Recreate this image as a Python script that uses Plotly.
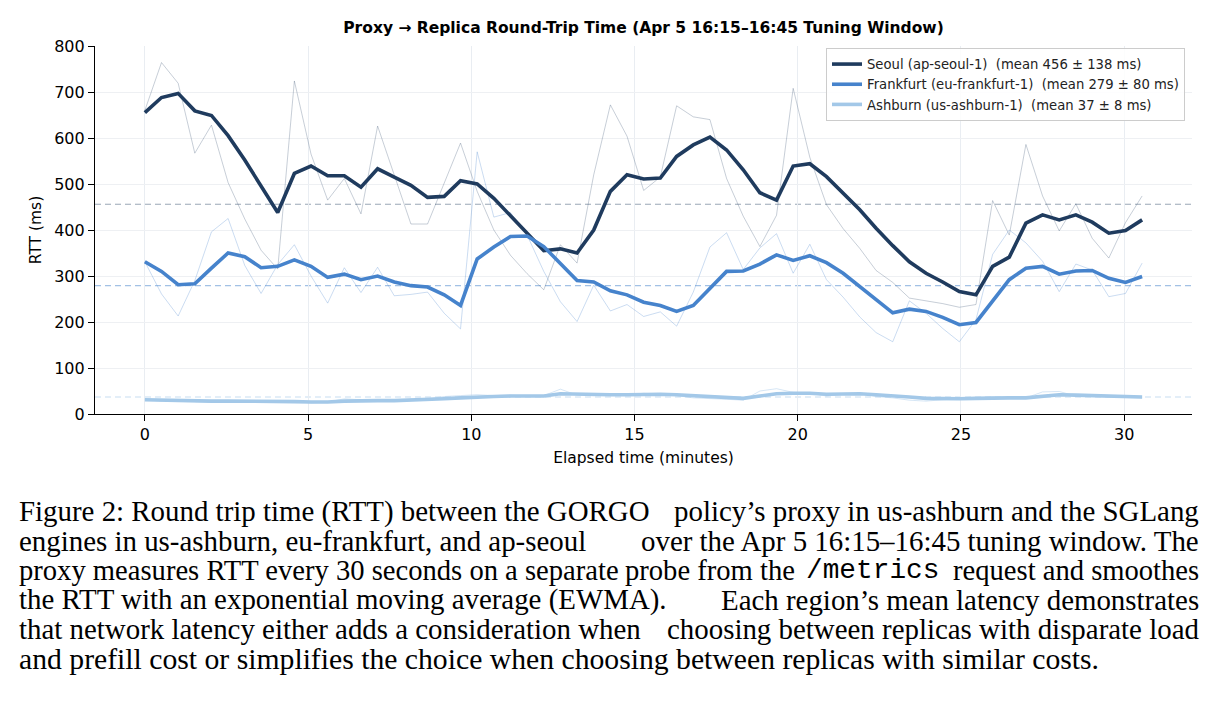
import plotly.graph_objects as go

# ---------------- data ----------------
elapsed_min = [0.00, 0.51, 1.02, 1.53, 2.04, 2.55, 3.06, 3.56, 4.07, 4.58,
               5.09, 5.60, 6.11, 6.62, 7.13, 7.64, 8.15, 8.66, 9.17, 9.67,
               10.18, 10.69, 11.20, 11.71, 12.22, 12.73, 13.24, 13.75, 14.26, 14.77,
               15.28, 15.79, 16.29, 16.80, 17.31, 17.82, 18.33, 18.84, 19.35, 19.86,
               20.37, 20.88, 21.39, 21.90, 22.40, 22.91, 23.42, 23.93, 24.44, 24.95,
               25.46, 25.97, 26.48, 26.99, 27.50, 28.01, 28.52, 29.02, 29.53, 30.04,
               30.55]

seoul_raw = [660, 764, 719, 567, 628, 503, 424, 356, 315, 724,
             565, 465, 512, 435, 626, 520, 413, 413, 500, 589,
             484, 400, 345, 305, 270, 368, 328, 520, 672, 604,
             486, 515, 670, 646, 640, 512, 430, 364, 432, 708,
             558, 455, 403, 360, 312, 286, 252, 246, 240, 232,
             238, 464, 389, 586, 474, 398, 457, 382, 339, 416,
             474]
seoul_ewma = [655, 688, 697, 659, 649, 605, 552, 494, 438, 523,
              539, 518, 518, 493, 533, 515, 497, 471, 473, 507,
              500, 469, 431, 393, 355, 359, 350, 400, 484, 520,
              511, 513, 560, 585, 602, 574, 531, 481, 465, 539,
              544, 516, 481, 444, 404, 366, 331, 306, 287, 266,
              259, 321, 341, 415, 433, 422, 433, 417, 393, 399,
              422]

frankfurt_raw = [331, 261, 213, 290, 396, 425, 323, 262, 325, 368,
                 300, 241, 318, 264, 319, 257, 260, 265, 219, 185,
                 570, 428, 438, 389, 310, 244, 201, 280, 224, 238,
                 212, 222, 191, 265, 363, 394, 314, 361, 392, 306,
                 369, 292, 254, 211, 177, 157, 246, 219, 186, 157,
                 205, 347, 400, 372, 332, 266, 326, 313, 255, 262,
                 328]
frankfurt_ewma = [331, 310, 281, 283, 317, 350, 342, 318, 321, 335,
                  321, 297, 304, 292, 300, 287, 279, 276, 259, 236,
                  337, 363, 386, 387, 364, 328, 290, 287, 268, 259,
                  243, 236, 223, 236, 274, 310, 311, 326, 346, 334,
                  344, 329, 306, 277, 247, 220, 228, 223, 210, 194,
                  199, 245, 292, 317, 321, 304, 311, 312, 295, 286,
                  299]

ashburn_raw = [31, 28, 30, 27, 26, 28, 28, 28, 25, 27,
               24, 26, 33, 31, 29, 29, 32, 33, 38, 40,
               42, 40, 41, 39, 40, 54, 41, 40, 42, 42,
               45, 43, 40, 35, 34, 32, 30, 50, 55, 47,
               45, 39, 43, 46, 38, 35, 30, 28, 31, 33,
               36, 37, 35, 35, 48, 49, 39, 38, 37, 36,
               35]
ashburn_ewma = [31, 30, 30, 29, 28, 28, 28, 28, 27, 27,
                26, 26, 28, 29, 29, 29, 30, 31, 33, 35,
                37, 38, 39, 39, 39, 44, 43, 42, 42, 42,
                43, 43, 42, 40, 38, 36, 34, 39, 44, 45,
                45, 43, 43, 44, 42, 40, 37, 34, 33, 33,
                34, 35, 35, 35, 39, 42, 41, 40, 39, 38,
                37]

regions = ["Seoul", "Frankfurt", "Ashburn"]
region_ids = ["ap-seoul-1", "eu-frankfurt-1", "us-ashburn-1"]
region_mean = [456, 279, 37]
region_std = [138, 80, 8]

y_ticks = [0, 100, 200, 300, 400, 500, 600, 700, 800]
x_ticks = [0, 5, 10, 15, 20, 25, 30]

title_text = "Proxy \u2192 Replica Round-Trip Time (Apr 5 16:15\u201316:45 Tuning Window)"
x_label = "Elapsed time (minutes)"
y_label = "RTT (ms)"

# caption: each line is a list of (text, edge pixel, anchor, font family, font size)
SERIF = "Liberation Serif, Times New Roman, serif"
MONO = "Liberation Mono, Courier New, monospace"
caption_lines = [
    [("Figure 2: Round trip time (RTT) between the GORGO", 17, "left", SERIF, 28.9),
     ("policy\u2019s proxy in us-ashburn and the SGLang", 1201, "right", SERIF, 28.9)],
    [("engines in us-ashburn, eu-frankfurt, and ap-seoul", 17, "left", SERIF, 28.9),
     ("over the Apr 5 16:15\u201316:45 tuning window. The", 1201, "right", SERIF, 28.9)],
    [("proxy measures RTT every 30 seconds on a separate", 17, "left", SERIF, 28.6),
     ("probe from the", 797, "right", SERIF, 28.6),
     ("/metrics", 804, "left", MONO, 27.8),
     ("request and smoothes", 1201, "right", SERIF, 28.6)],
    [("the RTT with an exponential moving average (EWMA).", 17, "left", SERIF, 28.9),
     ("Each region\u2019s mean latency demonstrates", 1201, "right", SERIF, 28.9)],
    [("that network latency either adds a consideration when", 17, "left", SERIF, 28.9),
     ("choosing between replicas with disparate load", 1201, "right", SERIF, 28.9)],
    [("and prefill cost or simplifies the choice when choosing between replicas with similar costs.", 17, "left", SERIF, 29.7)],
]

# ---------------- styling ----------------
W, H = 1219, 709
PL, PR, PT, PB = 95, 1192, 46, 414  # plot area in pixels

strong_colors = ["#1f3b5e", "#4683cc", "#a3c8e8"]
raw_colors = ["rgba(31,59,94,0.25)", "rgba(70,131,204,0.28)", "rgba(163,200,232,0.45)"]
mean_colors = ["rgba(31,59,94,0.45)", "rgba(70,131,204,0.5)", "rgba(163,200,232,0.6)"]

raw_series = [seoul_raw, frankfurt_raw, ashburn_raw]
ewma_series = [seoul_ewma, frankfurt_ewma, ashburn_ewma]

fig = go.Figure()

for i in range(3):
    fig.add_trace(go.Scatter(x=elapsed_min, y=raw_series[i], mode="lines",
                             line=dict(color=raw_colors[i], width=1),
                             showlegend=False, hoverinfo="skip"))

for i in range(3):
    name = f"{regions[i]} ({region_ids[i]})\u00a0\u00a0(mean {region_mean[i]} \u00b1 {region_std[i]} ms)"
    fig.add_trace(go.Scatter(x=elapsed_min, y=ewma_series[i], mode="lines",
                             line=dict(color=strong_colors[i], width=3.6),
                             name=name))

for i in range(3):
    fig.add_shape(type="line", xref="paper", yref="y", x0=0, x1=1,
                  y0=region_mean[i], y1=region_mean[i],
                  line=dict(color=mean_colors[i], width=1.1, dash="6px,4px"),
                  layer="below")

span = elapsed_min[-1] - elapsed_min[0]
x_range = [elapsed_min[0] - 0.05 * span, elapsed_min[-1] + 0.05 * span]


def px_x(X):
    return (X - PL) / (PR - PL)


def px_y(Y):
    return (PB - Y) / (PB - PT)


annotations = []
for k, parts in enumerate(caption_lines):
    yc = 511 + 29.6 * k
    for text, xpx, anchor, fam, size in parts:
        annotations.append(dict(text=text, xref="paper", yref="paper", x=px_x(xpx), y=px_y(yc),
                                xanchor=anchor, yanchor="middle", showarrow=False,
                                font=dict(family=fam, size=size, color="black")))

fig.update_layout(
    width=W, height=H,
    margin=dict(l=PL, r=W - PR, t=PT, b=H - PB, pad=0),
    paper_bgcolor="white", plot_bgcolor="white",
    font=dict(family="DejaVu Sans", size=16, color="black"),
    title=dict(text=f"<b>{title_text}</b>", x=px_x((PL + PR) / 2), xref="paper", xanchor="center",
               y=1 - 28 / H, yref="container", yanchor="middle",
               font=dict(family="DejaVu Sans", size=15.5, color="black")),
    legend=dict(x=px_x(1185), y=px_y(48), xanchor="right", yanchor="top",
                bgcolor="rgba(255,255,255,0.85)", bordercolor="#cccccc", borderwidth=1,
                font=dict(family="DejaVu Sans", size=13.2, color="#222222"),
                traceorder="normal", tracegroupgap=0),
    annotations=annotations,
)

fig.update_xaxes(range=x_range, tickmode="array", tickvals=x_ticks,
                 showgrid=True, gridcolor="#e9edf2", gridwidth=1, zeroline=False,
                 showline=True, linecolor="black", linewidth=1.2,
                 ticks="outside", ticklen=6, tickwidth=1.2, tickcolor="black",
                 tickfont=dict(size=16), title=dict(text=x_label, font=dict(size=15.5), standoff=8))
fig.update_yaxes(range=[y_ticks[0], y_ticks[-1]], tickmode="array", tickvals=y_ticks,
                 showgrid=True, gridcolor="#eef0f3", gridwidth=1, zeroline=False,
                 showline=True, linecolor="black", linewidth=1.2,
                 ticks="outside", ticklen=6, tickwidth=1.2, tickcolor="black",
                 tickfont=dict(size=16), title=dict(text=y_label, font=dict(size=15.5), standoff=8))

fig.write_html("out.html")
